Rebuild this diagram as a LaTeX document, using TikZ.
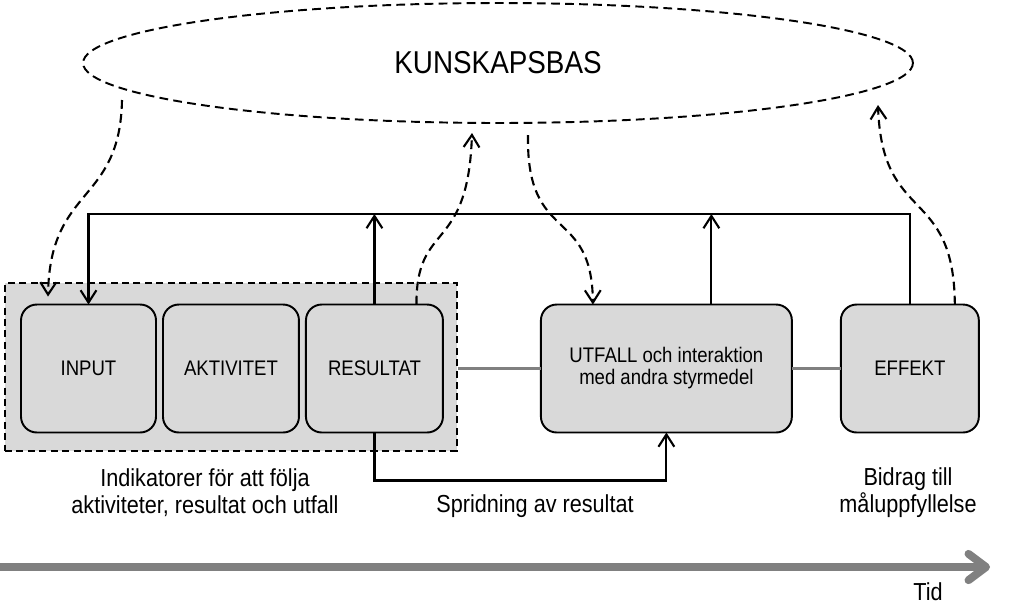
\documentclass[tikz,border=0pt]{standalone}
\usepackage{fontspec}
\setmainfont{Liberation Sans}[FakeStretch=0.88]
\usetikzlibrary{arrows.meta, positioning, shapes.geometric}
\definecolor{boxgray}{RGB}{217,217,217}
\definecolor{linegray}{RGB}{128,128,128}

\begin{document}
\begin{tikzpicture}[x=0.02cm, y=-0.02cm,
  >={Straight Barb[length=7pt, width=9pt]},
  stepbox/.style={draw, line width=1.1pt, fill=boxgray, rounded corners=9pt, minimum height=2.56cm, outer sep=0pt, align=center, inner sep=2pt, font=\fontsize{12}{12.5}\selectfont},
  groupbox/.style={draw, line width=1pt, fill=boxgray, dash pattern=on 4pt off 2.5pt},
  feedline/.style={line width=1.2pt},
  kurva/.style={line width=1.2pt, dash pattern=on 5pt off 3pt},
  graylink/.style={linegray, line width=2pt},
  caption/.style={align=center, font=\fontsize{14}{15.5}\selectfont},
  tidaxel/.style={linegray, line width=4.5pt, -{Straight Barb[length=10pt, width=15pt, round]}}]
\useasboundingbox (0,0) rectangle (1023,606);

% kunskapsbas
\node[draw, ellipse, kurva, line width=1.1pt, minimum width=16.6cm, minimum height=2.4cm, font=\fontsize{18}{20}\selectfont] (kunskapsbas) at (498,63) {KUNSKAPSBAS};

% boxes
\node[groupbox, minimum width=9.04cm, minimum height=3.36cm] (grupp) at (231,367) {};
\node[stepbox, minimum width=2.7cm] (input) at (88.5,368.5) {INPUT};
\node[stepbox, minimum width=2.72cm, right=0.14cm of input] (aktivitet) {AKTIVITET};
\node[stepbox, minimum width=2.74cm, right=0.14cm of aktivitet] (resultat) {RESULTAT};
\node[stepbox, minimum width=5.02cm, right=1.96cm of resultat] (utfall) {UTFALL och interaktion\\med andra styrmedel};
\node[stepbox, minimum width=2.76cm, right=0.98cm of utfall] (effekt) {EFFEKT};

\draw[graylink] (grupp.east |- utfall.west) -- (utfall.west);
\draw[graylink] (utfall.east) -- (effekt.west);

% feedback
\coordinate (fb) at (88.5,214);
\coordinate (utup) at ([xshift=0.9cm]utfall.north);
\draw[feedline, ->] (effekt.north) |- (fb) -- (input.north);
\draw[feedline, ->] (resultat.north) -- (resultat.north |- fb);
\draw[feedline, ->] (utup) -- (utup |- fb);
\draw[feedline, ->] (resultat.south) -- ++(0,48) -| (utfall.south);

% dashed curves
\coordinate (k1) at (122,100);
\coordinate (k2) at (472,133);
\coordinate (k3) at (528,135);
\coordinate (k4) at (878,105);
\draw[kurva, ->] (k1) .. controls (120,205) and (50,185) .. ([xshift=0.54cm, yshift=0.16cm]input.north west);
\draw[kurva, ->] ([xshift=0.84cm]resultat.north) .. controls (416,220) and (468,255) .. (k2);
\draw[kurva, ->] (k3) .. controls (526,245) and (592,205) .. ([xshift=-1.47cm]utfall.north);
\draw[kurva, ->] ([xshift=0.9cm]effekt.north) .. controls (954,185) and (882,225) .. (k4);

% labels
\node[caption] (indikatorer) at (205,493) {Indikatorer för att följa\\aktiviteter, resultat och utfall};
\node[caption] (spridning) at (535,506) {Spridning av resultat};
\node[caption] (bidrag) at (908,493) {Bidrag till\\måluppfyllelse};

% tid
\coordinate (t0) at (0,567);
\coordinate (t1) at (990,567);
\draw[tidaxel] (t0) -- (t1);
\node[caption] (tid) at (928,592) {Tid};

\end{tikzpicture}
\end{document}
